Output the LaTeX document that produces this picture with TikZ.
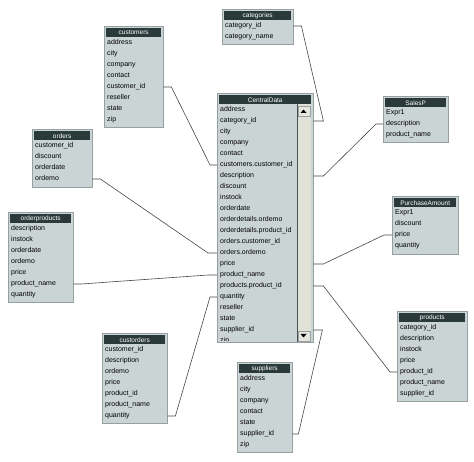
\documentclass[tikz,border=0pt]{standalone}
\usepackage{fontspec}
\setmainfont{Liberation Sans}
\usetikzlibrary{calc}

\definecolor{tabbg}{RGB}{203,212,212}
\definecolor{tabedge}{RGB}{150,160,160}
\definecolor{tabhead}{RGB}{42,58,58}
\definecolor{scrollbg}{RGB}{224,226,216}
\definecolor{linkgray}{RGB}{70,70,70}

\tikzset{
  tabframe/.style={fill=tabbg, draw=tabedge, line width=0.8pt},
  tabtitle/.style={fill=tabhead, text=white, font=\fontsize{6.5}{7}\selectfont, inner sep=0pt, minimum height=9pt, anchor=north west},
  tabrow/.style={font=\fontsize{7}{8}\selectfont, inner ysep=0pt, inner xsep=3pt, text height=5pt, text depth=1.6pt, align=left, anchor=west},
  link/.style={draw=linkgray, line width=0.6pt},
}

\newcommand{\dbtable}[6]{%
  \pgfmathsetlengthmacro{\tabw}{#4-6}
  \pgfmathsetlengthmacro{\titlew}{#4-4}
  \draw[tabframe] (#2,#3-2) rectangle (#2+#4,#5);
  \node[tabtitle, minimum width=\titlew] (#1) at (#2+2,#3) {#1};
  \begin{scope}
    \clip (#2,#3) rectangle (#2+#4,#5-1.5);
    \foreach \fld [count=\i] in {#6}
      \node[tabrow, text width=\tabw] (#1-\i) at (#2,#3+15+11*\i-11) {\fld};
  \end{scope}
}

\begin{document}
\begin{tikzpicture}[x=1pt, y=-1pt]

  \useasboundingbox (0,0) rectangle (474,462);

  \dbtable{customers}{104}{28}{59}{127}{address, city, company, contact, customer\_id, reseller, state, zip}
  \dbtable{categories}{222}{11}{71}{44}{category\_id, category\_name}
  \dbtable{CentralData}{217}{95}{96}{342.5}{address, category\_id, city, company, contact, customers.customer\_id, description, discount, instock, orderdate, orderdetails.ordemo, orderdetails.product\_id, orders.customer\_id, orders.ordemo, price, product\_name, products.product\_id, quantity, reseller, state, supplier\_id, zip}
  \dbtable{SalesP}{383}{98}{65}{142}{Expr1, description, product\_name}
  \dbtable{PurchaseAmount}{392}{198}{66}{254}{Expr1, discount, price, quantity}
  \dbtable{products}{397}{313}{70}{401}{category\_id, description, instock, price, product\_id, product\_name, supplier\_id}
  \dbtable{orders}{32}{131}{60}{187}{customer\_id, discount, orderdate, ordemo}
  \dbtable{orderproducts}{8}{214}{65}{302}{description, instock, orderdate, ordemo, price, product\_name, quantity}
  \dbtable{custorders}{102}{335}{65}{423}{customer\_id, description, ordemo, price, product\_id, product\_name, quantity}
  \dbtable{suppliers}{237}{364}{55}{452}{address, city, company, contact, state, supplier\_id, zip}

  \fill[scrollbg] (297,104) rectangle (311,342);
  \draw[tabedge!50!black, line width=0.8pt] (297,104) -- (297,342);
  \draw[fill=scrollbg!80!white, draw=tabedge] (298,106) rectangle (310,116);
  \fill (300.5,113) -- (306.5,113) -- (303.5,109.5) -- cycle;
  \draw[fill=scrollbg!80!white, draw=tabedge] (298,331) rectangle (310,341);
  \fill (300.5,334) -- (306.5,334) -- (303.5,337.5) -- cycle;

  \draw[link] (customers-5.east) -- ++(8,0) -- ([xshift=-7pt]CentralData-6.west) -- (CentralData-6.west);
  \draw[link] (orders-4.east) -- ++(8,0) -- ([xshift=-9pt]CentralData-14.west) -- (CentralData-14.west);
  \draw[link] (orderproducts-6.east) -- ++(8,0) -- ([xshift=-9pt]CentralData-16.west) -- (CentralData-16.west);
  \draw[link] (custorders-7.east) -- ++(8,0) -- ([xshift=-7pt]CentralData-18.west) -- (CentralData-18.west);

  \draw[link] (categories-1.east) -- ++(8,0) -- ([xshift=10pt]CentralData-2.east) -- (CentralData-2.east);
  \draw[link] (SalesP-2.west) -- ++(-7,0) -- ([xshift=10pt]CentralData-7.east) -- (CentralData-7.east);
  \draw[link] (PurchaseAmount-3.west) -- ++(-8,0) -- ([xshift=10pt]CentralData-15.east) -- (CentralData-15.east);
  \draw[link] (products-5.west) -- ++(-7,0) -- ([xshift=10pt]CentralData-17.east) -- (CentralData-17.east);
  \draw[link] (suppliers-6.east) -- ++(6,0) -- ([xshift=9pt]CentralData-21.east) -- (CentralData-21.east);

\end{tikzpicture}
\end{document}
